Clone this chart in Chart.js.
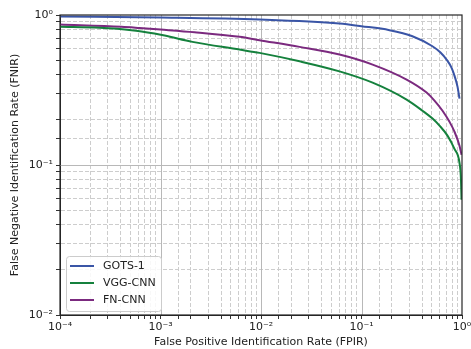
<!DOCTYPE html>
<html>
<head>
<meta charset="utf-8">
<script src="https://cdn.jsdelivr.net/npm/chart.js@4/dist/chart.umd.min.js"></script>
<style>
  html, body { margin: 0; padding: 0; background: #fff; }
  #wrap { width: 471px; height: 349px; }
</style>
</head>
<body>
<div id="wrap"><canvas id="Chart"></canvas></div>
<script>
// values (log-log DET curves)
var seriesNames = ['GOTS-1', 'VGG-CNN', 'FN-CNN'];
var seriesColors = ['#3a55a6', '#15813d', '#7b2a7f'];

var gotsFpir = [0.0001, 0.001, 0.00966, 0.0604, 0.1, 0.19, 0.321, 0.508, 0.611, 0.702, 0.786, 0.841, 0.902, 0.944];
var gotsFnir = [0.977, 0.962, 0.933, 0.877, 0.842, 0.792, 0.722, 0.619, 0.562, 0.504, 0.446, 0.394, 0.333, 0.277];

var vggFpir = [0.0001, 0.000247, 0.000514, 0.000871, 0.0011, 0.00208, 0.00611, 0.00966, 0.0242, 0.0604, 0.129, 0.281, 0.405, 0.509, 0.597, 0.717, 0.841, 0.944, 0.977, 0.989];
var vggFnir = [0.834, 0.821, 0.792, 0.752, 0.73, 0.662, 0.588, 0.559, 0.491, 0.421, 0.354, 0.273, 0.23, 0.204, 0.183, 0.157, 0.128, 0.1035, 0.0797, 0.0586];

var fnFpir = [0.0001, 0.000409, 0.000618, 0.001, 0.00218, 0.00611, 0.00966, 0.0242, 0.0604, 0.129, 0.281, 0.444, 0.532, 0.64, 0.751, 0.841, 0.944, 0.989];
var fnFnir = [0.864, 0.834, 0.819, 0.8, 0.768, 0.715, 0.679, 0.613, 0.545, 0.467, 0.371, 0.304, 0.269, 0.23, 0.194, 0.167, 0.1345, 0.117];

var xMin = 1e-4, xMax = 1;
var yMin = 1e-2, yMax = 1;
var xMajor = [1e-3, 1e-2, 1e-1];
var yMajor = [1e-1];

function toPoints(xs, ys){
    var pts = [];
    for(var i=0;i<xs.length;i++) pts.push({x: xs[i], y: ys[i]});
    return pts;
}

var sup = {'-':'\u207B','0':'\u2070','1':'\u00B9','2':'\u00B2','3':'\u00B3','4':'\u2074','5':'\u2075'};
function decadeLabel(v){
    var e = Math.log10(v);
    if(Math.abs(e - Math.round(e)) > 1e-6) return '';
    var s = String(Math.round(e)).split('').map(function(c){ return sup[c]; }).join('');
    return '10' + s;
}
function isDecade(v){
    var e = Math.log10(v);
    return Math.abs(e - Math.round(e)) < 1e-6;
}

// solid major grid lines + frame on top
var majorGrid = {
    id: 'majorGrid',
    beforeDatasetsDraw: function(chart){
        var ctx = chart.ctx, a = chart.chartArea;
        var sx = chart.scales.x, sy = chart.scales.y;
        ctx.save();
        ctx.strokeStyle = '#b8b8b8';
        ctx.lineWidth = 1;
        xMajor.forEach(function(v){
            var p = Math.round(sx.getPixelForValue(v)) + 0.5;
            ctx.beginPath(); ctx.moveTo(p, a.top); ctx.lineTo(p, a.bottom); ctx.stroke();
        });
        yMajor.forEach(function(v){
            var p = Math.round(sy.getPixelForValue(v)) + 0.5;
            ctx.beginPath(); ctx.moveTo(a.left, p); ctx.lineTo(a.right, p); ctx.stroke();
        });
        ctx.restore();
    },
    afterDatasetsDraw: function(chart){
        var ctx = chart.ctx, a = chart.chartArea;
        ctx.save();
        ctx.strokeStyle = '#262626';
        ctx.lineWidth = 1.2;
        ctx.strokeRect(a.left, a.top, a.right - a.left, a.bottom - a.top);
        ctx.restore();
    }
};

// legend box inside the plot, lower left
var innerLegend = {
    id: 'innerLegend',
    afterDraw: function(chart){
        var ctx = chart.ctx, a = chart.chartArea;
        var bx = a.left + 6, by = a.bottom - 59, bw = 95, bh = 55;
        ctx.save();
        ctx.fillStyle = 'rgba(255,255,255,0.85)';
        ctx.strokeStyle = '#cccccc';
        ctx.lineWidth = 1;
        ctx.beginPath();
        ctx.roundRect(bx + 0.5, by + 0.5, bw, bh, 3);
        ctx.fill();
        ctx.stroke();
        ctx.font = '11px "DejaVu Sans"';
        ctx.textBaseline = 'middle';
        chart.data.datasets.forEach(function(ds, i){
            var y = by + 10 + i * 17;
            ctx.strokeStyle = ds.borderColor;
            ctx.lineWidth = 2;
            ctx.beginPath(); ctx.moveTo(bx + 4, y); ctx.lineTo(bx + 28, y); ctx.stroke();
            ctx.fillStyle = '#222';
            ctx.fillText(ds.label, bx + 37, y);
        });
        ctx.restore();
    }
};

Chart.defaults.font.family = '"DejaVu Sans", sans-serif';
Chart.defaults.font.size = 11;
Chart.defaults.color = '#222';

var ctx = document.getElementById('Chart').getContext('2d');
var myChart = new Chart(ctx, {
    type: 'line',
    data: {
        datasets: [
            { label: seriesNames[0], data: toPoints(gotsFpir, gotsFnir), borderColor: seriesColors[0] },
            { label: seriesNames[1], data: toPoints(vggFpir, vggFnir), borderColor: seriesColors[1] },
            { label: seriesNames[2], data: toPoints(fnFpir, fnFnir), borderColor: seriesColors[2] }
        ]
    },
    options: {
        responsive: true,
        maintainAspectRatio: false,
        animation: false,
        layout: { padding: { top: 15, right: 9, left: 0, bottom: 0 } },
        elements: {
            line: { borderWidth: 2, fill: false, cubicInterpolationMode: 'monotone' },
            point: { radius: 0 }
        },
        plugins: { legend: { display: false }, tooltip: { enabled: false } },
        scales: {
            x: {
                type: 'logarithmic',
                min: xMin, max: xMax,
                afterFit: function(s){ s.height = 34; s.paddingRight = 0; s.paddingLeft = 0; },
                title: { display: true, text: 'False Positive Identification Rate (FPIR)', padding: { top: 0, bottom: 0 } },
                ticks: {
                    autoSkip: false, maxRotation: 0, padding: 2,
                    callback: function(v){ return decadeLabel(v); }
                },
                border: { display: true, color: '#262626', width: 1, dash: [4, 2] },
                grid: {
                    tickLength: 4,
                    tickColor: '#333',
                    color: function(c){ return (c.tick && isDecade(c.tick.value)) ? 'rgba(0,0,0,0)' : '#cdcdcd'; }
                }
            },
            y: {
                type: 'logarithmic',
                min: yMin, max: yMax,
                afterFit: function(s){ s.width = 60; s.paddingTop = 0; s.paddingBottom = 0; },
                title: { display: true, text: 'False Negative Identification Rate (FNIR)', padding: { top: 9, bottom: 0 } },
                ticks: {
                    autoSkip: false, padding: 3,
                    callback: function(v){ return decadeLabel(v); }
                },
                border: { display: true, color: '#262626', width: 1, dash: [4, 2] },
                grid: {
                    tickLength: 4,
                    tickColor: '#333',
                    color: function(c){ return (c.tick && isDecade(c.tick.value)) ? 'rgba(0,0,0,0)' : '#cdcdcd'; }
                }
            }
        }
    },
    plugins: [majorGrid, innerLegend]
});
</script>
</body>
</html>
